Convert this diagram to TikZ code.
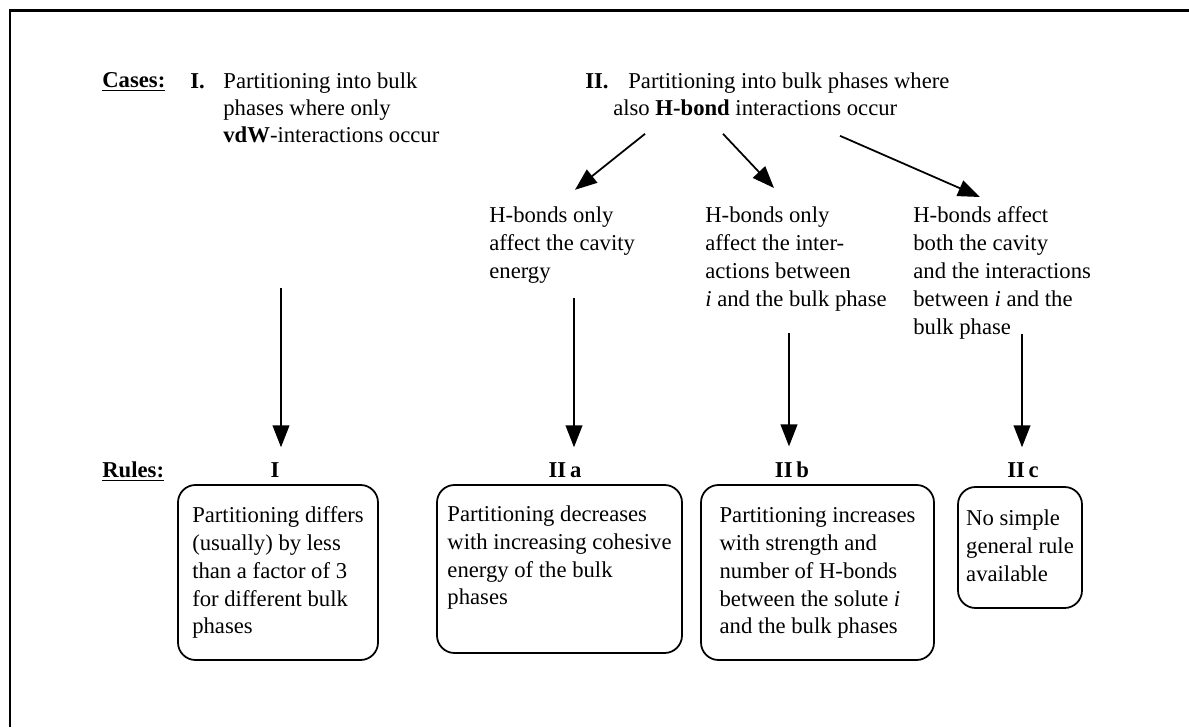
\documentclass[tikz,border=0pt]{standalone}
\usepackage{fontspec}
\setmainfont{Liberation Serif}
\usetikzlibrary{arrows.meta}

\tikzset{
  txt/.style={inner sep=0pt, anchor=north west, align=left, font=\fontsize{12.9}{15.9}\selectfont},
  toptxt/.style={txt, font=\fontsize{12.9}{15.4}\selectfont},
  rulelab/.style={inner xsep=0pt, inner ysep=0.3cm, anchor=base, font=\fontsize{12.9}{15.9}\selectfont\bfseries},
  rulebox/.style={draw, line width=1pt, rounded corners=0.35cm, inner sep=0pt, align=left, font=\fontsize{12.9}{15.9}\selectfont},
  arr/.style={line width=1pt, -{Triangle[length=12.5pt, width=9.5pt]}}
}

\begin{document}
\begin{tikzpicture}
  \useasboundingbox (0,0) rectangle (23.78,14.54);
  % Frame
  \draw[line width=1.4pt] (0.2,0) -- (0.2,14.33) -- (23.78,14.33);

  % Cases
  \node[toptxt, anchor=base west] (cases) at (2.04,12.78) {\underline{\textbf{Cases:}}};
  \node[toptxt] (caseI) at (3.8,13.158) {\strut\textbf{I.}\hspace{10.6pt}Partitioning into bulk\\\hspace*{18.8pt}phases where only\\\hspace*{18.8pt}\textbf{vdW}-interactions occur\strut};
  \node[toptxt] (caseII) at (11.7,13.158) {\strut\textbf{II.}\hspace{11.2pt}Partitioning into bulk phases where\\\hspace*{15.9pt}also \textbf{H-bond} interactions occur\strut};

  % Sub-cases of II
  \node[txt] (hbA) at (9.78,10.492) {\strut H-bonds only\\affect the cavity\\energy\strut};
  \node[txt] (hbB) at (14.1,10.492) {\strut H-bonds only\\affect the inter-\\actions between\\\textit{i} and the bulk phase\strut};
  \node[txt] (hbC) at (18.26,10.492) {\strut H-bonds affect\\both the cavity\\and the interactions\\between \textit{i} and the\\bulk phase\strut};

  \draw[arr] ([shift={(1.2,-0.198)}]caseII.south west) -- ([shift={(1.72,0.252)}]hbA.north west);
  \draw[arr] ([shift={(2.76,-0.198)}]caseII.south west) -- ([shift={(1.38,0.288)}]hbB.north west);
  \draw[arr] ([shift={(5.1,-0.238)}]caseII.south west) -- ([shift={(1.34,0.108)}]hbC.north west);

  % Rules
  \node[toptxt, anchor=base west] (rules) at (2.04,4.99) {\underline{\textbf{Rules:}}};
  \node[rulelab] (labI) at (5.5,4.99) {I};
  \node[rulelab] (labIIa) at (11.3,4.99) {II\,a};
  \node[rulelab] (labIIb) at (15.84,4.99) {II\,b};
  \node[rulelab] (labIIc) at (20.46,4.99) {II\,c};

  \coordinate (aI) at ([shift={(1.82,-2.738)}]caseI.south west);
  \coordinate (aIIa) at ([shift={(1.70,-0.212)}]hbA.south west);
  \coordinate (aIIb) at ([shift={(1.68,-0.372)}]hbB.south west);
  \coordinate (aIIc) at ([shift={(2.18,0.168)}]hbC.south west);
  \draw[arr] (aI) -- (aI |- labI.north);
  \draw[arr] (aIIa) -- (aIIa |- labIIa.north);
  \draw[arr] (aIIb) -- (aIIb |- labIIb.north);
  \draw[arr] (aIIc) -- (aIIc |- labIIc.north);

  % Rule boxes
  \node[rulebox, minimum width=4cm, minimum height=3.5cm] (ruleI) at (5.56,3.09) {\strut Partitioning differs\\(usually) by less\\than a factor of 3\\for different bulk\\phases\strut};
  \node[rulebox, minimum width=4.9cm, minimum height=3.36cm] (ruleIIa) at (11.19,3.16) {\strut Partitioning decreases\\with increasing cohesive\\energy of the bulk\\phases\\[2pt]\mbox{}};
  \node[rulebox, minimum width=4.66cm, minimum height=3.5cm] (ruleIIb) at (16.35,3.09) {\strut Partitioning increases\\with strength and\\number of H-bonds\\between the solute \textit{i}\\and the bulk phases\strut};
  \node[rulebox, minimum width=2.48cm, minimum height=2.42cm] (ruleIIc) at (20.4,3.59) {\strut No simple\\general rule\\available\strut};
\end{tikzpicture}
\end{document}
